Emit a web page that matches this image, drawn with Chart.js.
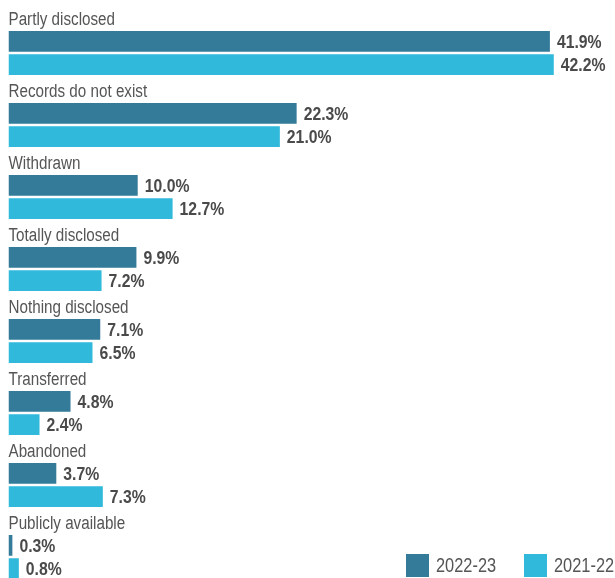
<!DOCTYPE html>
<html>
<head>
<meta charset="utf-8">
<script src="https://cdn.jsdelivr.net/npm/chart.js@4/dist/chart.umd.min.js"></script>
<style>
  html, body { margin: 0; padding: 0; background: #ffffff; overflow: hidden; width: 615px; height: 578px; }
  #wrap { position: absolute; left: 0; top: 0; width: 615px; height: 593px; }
  .lg { position: absolute; font-family: "Liberation Sans", Arial, sans-serif; font-size: 19.5px; color: #555555; line-height: 23px; white-space: nowrap; transform: scaleX(0.84); transform-origin: 0 0; }
  .sw { position: absolute; width: 23px; height: 23px; }
</style>
</head>
<body>
<div id="wrap"><canvas id="c"></canvas></div>
<div class="sw" style="left:406px; top:554px; background:#347a99;"></div>
<div class="lg" style="left:436px; top:554px;">2022-23</div>
<div class="sw" style="left:524px; top:554px; background:#30b9da;"></div>
<div class="lg" style="left:554px; top:554px;">2021-22</div>
<script>
const categories = ["Partly disclosed", "Records do not exist", "Withdrawn", "Totally disclosed", "Nothing disclosed", "Transferred", "Abandoned", "Publicly available"];
const values2223 = [41.9, 22.3, 10.0, 9.9, 7.1, 4.8, 3.7, 0.3];
const values2122 = [42.2, 21.0, 12.7, 7.2, 6.5, 2.4, 7.3, 0.8];
const seriesNames = ["2022-23", "2021-22"];

const FONT = '"Liberation Sans", Arial, sans-serif';

function narrowText(ctx, text, x, y, k) {
  ctx.save();
  ctx.translate(x, y);
  ctx.scale(k, 1);
  ctx.fillText(text, 0, 0);
  ctx.restore();
}

const labelPlugin = {
  id: 'labels',
  afterDatasetsDraw(chart) {
    const ctx = chart.ctx;
    ctx.save();
    const meta0 = chart.getDatasetMeta(0);
    ctx.font = '18px ' + FONT;
    ctx.fillStyle = '#555555';
    ctx.textAlign = 'left';
    ctx.textBaseline = 'alphabetic';
    meta0.data.forEach((bar, i) => {
      const top = bar.y - bar.height / 2;
      narrowText(ctx, categories[i], chart.scales.x.getPixelForValue(0), top - 6.5, 0.845);
    });
    ctx.font = 'bold 19px ' + FONT;
    ctx.fillStyle = '#4a4a4a';
    ctx.textBaseline = 'middle';
    chart.data.datasets.forEach((ds, di) => {
      const meta = chart.getDatasetMeta(di);
      meta.data.forEach((bar, i) => {
        narrowText(ctx, ds.data[i].toFixed(1) + '%', bar.x + 7, bar.y + 1, 0.83);
      });
    });
    ctx.restore();
  }
};

new Chart(document.getElementById('c'), {
  type: 'bar',
  data: {
    labels: categories,
    datasets: [
      { label: seriesNames[0], data: values2223, backgroundColor: '#347a99', borderWidth: 0 },
      { label: seriesNames[1], data: values2122, backgroundColor: '#30b9da', borderWidth: 0 }
    ]
  },
  options: {
    indexAxis: 'y',
    responsive: true,
    maintainAspectRatio: false,
    animation: false,
    devicePixelRatio: 1,
    categoryPercentage: 0.648,
    barPercentage: 0.884,
    layout: { padding: { left: 8.5, right: 0.5, top: 17, bottom: 0 } },
    plugins: { legend: { display: false }, tooltip: { enabled: false } },
    scales: {
      x: { display: false, min: 0, max: 46.9, grid: { display: false } },
      y: { display: false, grid: { display: false } }
    }
  },
  plugins: [labelPlugin]
});
</script>
</body>
</html>
